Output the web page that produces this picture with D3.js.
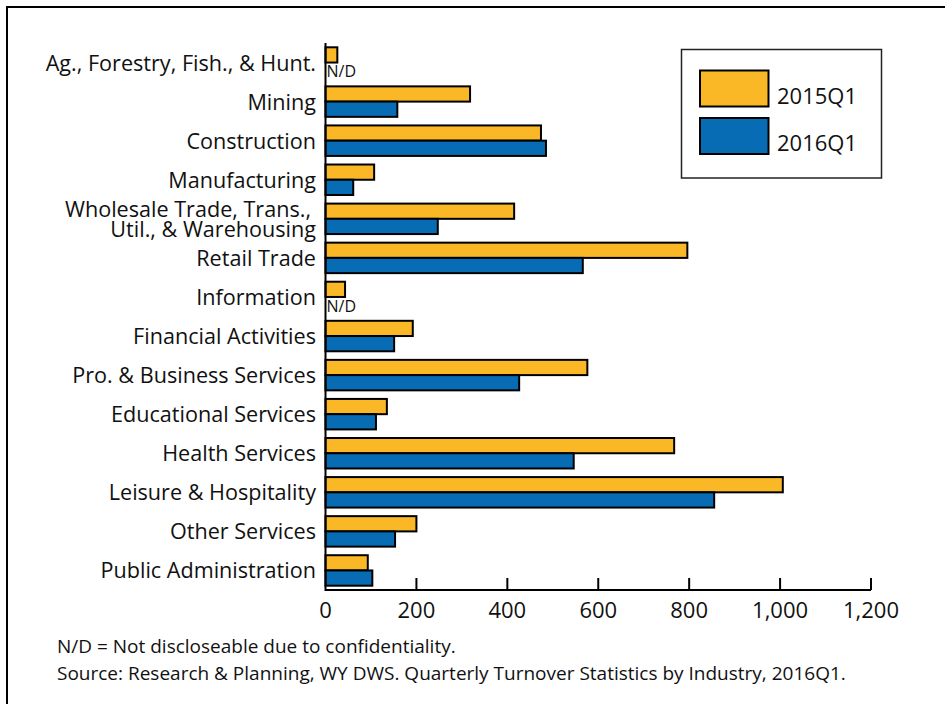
<!DOCTYPE html>
<html>
<head>
<meta charset="utf-8">
<script src="https://cdn.jsdelivr.net/npm/d3@7"></script>
<style>
  html, body { margin: 0; padding: 0; background: #fff; }
  svg { display: block; font-family: "Open Sans", sans-serif; }
</style>
</head>
<body>
<div id="chart"></div>
<script>
const width = 945;
const height = 704;

// industries, top to bottom
const categories = [
  "Ag., Forestry, Fish., & Hunt.",
  "Mining",
  "Construction",
  "Manufacturing",
  "Wholesale Trade, Trans.,|Util., & Warehousing",
  "Retail Trade",
  "Information",
  "Financial Activities",
  "Pro. & Business Services",
  "Educational Services",
  "Health Services",
  "Leisure & Hospitality",
  "Other Services",
  "Public Administration"
];

const seriesNames = ["2015Q1", "2016Q1"];
const seriesColors = ["#fbb826", "#076cb3"];

// null = N/D (not discloseable)
const values2015 = [26, 318, 474, 107, 415, 796, 43, 192, 576, 135, 767, 1006, 200, 93];
const values2016 = [null, 158, 485, 61, 247, 566, null, 151, 426, 111, 546, 855, 153, 103];

const xTicks = [0, 200, 400, 600, 800, 1000, 1200];

const notes = [
  "N/D = Not discloseable due to confidentiality.",
  "Source: Research & Planning, WY DWS. Quarterly Turnover Statistics by Industry, 2016Q1."
];

const svg = d3.select("#chart")
  .append("svg")
  .attr("width", width)
  .attr("height", height);

// frame (only top and left edges are visible in the crop)
svg.append("path")
  .attr("d", "M7," + height + "V7H" + width)
  .attr("fill", "none")
  .attr("stroke", "#000")
  .attr("stroke-width", 2);

const x = d3.scaleLinear()
  .domain([0, 1200])
  .range([325.5, 871]);

const y = d3.scaleBand()
  .domain(categories)
  .range([43, 590])
  .paddingInner(0.22)
  .paddingOuter(0.11);

const ySub = d3.scaleBand()
  .domain(seriesNames)
  .range([0, y.bandwidth()]);

const rows = categories.map((c, i) => ({
  cat: c,
  vals: [values2015[i], values2016[i]]
}));

// bars
const groups = svg.selectAll(".row")
  .data(rows)
  .enter()
  .append("g")
  .attr("class", "row")
  .attr("transform", d => "translate(0," + y(d.cat) + ")");

groups.selectAll("rect")
  .data(d => d.vals.map((v, j) => ({ v: v, s: seriesNames[j], j: j })).filter(e => e.v !== null))
  .enter()
  .append("rect")
  .attr("x", x(0))
  .attr("y", d => ySub(d.s))
  .attr("width", d => x(d.v) - x(0))
  .attr("height", ySub.bandwidth())
  .attr("fill", d => seriesColors[d.j])
  .attr("stroke", "#000")
  .attr("stroke-width", 2);

groups.filter(d => d.vals[1] === null)
  .append("text")
  .attr("x", x(0) + 1)
  .attr("y", ySub("2016Q1") + ySub.bandwidth() - 0.5)
  .attr("font-size", 16)
  .attr("fill", "#111")
  .text("N/D");

// category labels
groups.each(function (d) {
  const lines = d.cat.split("|");
  const t = d3.select(this).append("text")
    .attr("text-anchor", "end")
    .attr("font-size", 21.6)
    .attr("fill", "#111");
  const mid = y.bandwidth() / 2;
  if (lines.length === 1) {
    t.append("tspan").attr("x", 316).attr("y", mid + 8).text(lines[0]);
  } else {
    t.append("tspan").attr("x", 311).attr("y", mid - 1.5).text(lines[0]);
    t.append("tspan").attr("x", 316).attr("y", mid + 18).text(lines[1]);
  }
});

// x axis
const xAxis = svg.append("g")
  .attr("transform", "translate(0,590)");

xAxis.append("line")
  .attr("x1", x(0)).attr("x2", x(1200))
  .attr("stroke", "#000").attr("stroke-width", 2);

xAxis.selectAll(".tick")
  .data(xTicks.filter(t => t > 0))
  .enter()
  .append("line")
  .attr("x1", d => x(d)).attr("x2", d => x(d))
  .attr("y1", 0).attr("y2", -12)
  .attr("stroke", "#000").attr("stroke-width", 2);

xAxis.selectAll(".lbl")
  .data(xTicks)
  .enter()
  .append("text")
  .attr("x", d => x(d))
  .attr("y", 28)
  .attr("text-anchor", "middle")
  .attr("font-size", 22)
  .attr("fill", "#111")
  .text(d => d3.format(",")(d));

// y axis line
svg.append("line")
  .attr("x1", x(0)).attr("x2", x(0))
  .attr("y1", 43).attr("y2", 591)
  .attr("stroke", "#000").attr("stroke-width", 2);

// legend
const legend = svg.append("g");
legend.append("rect")
  .attr("x", 681.5).attr("y", 49.5)
  .attr("width", 200).attr("height", 128.5)
  .attr("fill", "#fff")
  .attr("stroke", "#222").attr("stroke-width", 1.5);

const legendRows = legend.selectAll(".lg")
  .data(seriesNames)
  .enter()
  .append("g")
  .attr("transform", (d, i) => "translate(700," + (70.5 + i * 47.5) + ")");

legendRows.append("rect")
  .attr("width", 68.5).attr("height", 36)
  .attr("fill", (d, i) => seriesColors[i])
  .attr("stroke", "#000").attr("stroke-width", 2);

legendRows.append("text")
  .attr("x", 77).attr("y", 33)
  .attr("font-size", 22)
  .attr("fill", "#111")
  .text(d => d);

// notes
svg.selectAll(".note")
  .data(notes)
  .enter()
  .append("text")
  .attr("x", 57)
  .attr("y", (d, i) => 652.5 + i * 27)
  .attr("font-size", 19)
  .attr("fill", "#111")
  .text(d => d);
</script>
</body>
</html>
